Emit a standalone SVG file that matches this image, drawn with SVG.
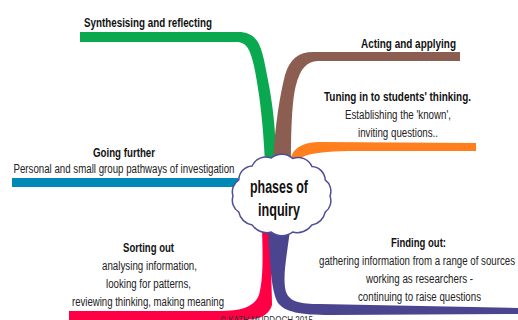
<svg xmlns="http://www.w3.org/2000/svg" width="518" height="320" viewBox="0 0 518 320">
<style>
text{font-family:"Liberation Sans",Arial,sans-serif;fill:#111;text-anchor:middle}
.h{font-weight:bold;font-size:12.5px}
.n{font-size:12.5px;fill:#222}
.c{font-weight:bold;font-size:19px}
.cp{font-size:10px;fill:#333}
</style>
<rect width="518" height="320" fill="#fff"/>
<g id="connectors">
<path d="M290,162 C292,149 300,142 322,142 L476,143 V151 L400,151 C360,151 330,150 312,154 C302,156 297,160 295,164 Z" fill="#ff7f1f"/>
<path d="M80,32 H238 C255,32 260,42 264,60 C269,85 276,115 276,162 H265 C263,120 259,90 254,66 C250,48 246,42 236,42 H80 Z" fill="#0aa84f"/>
<path d="M460,52 H316 C300,51 290,58 285,75 C280,95 275,125 273,162 H291 C291,130 292,100 296,85 C300,70 306,61 318,61 H460 Z" fill="#8c5e52"/>
<rect x="12" y="178" width="226" height="9" fill="#0088b6"/>
<path d="M262,230 H272 C270,260 272,290 272,305 C268,318 255,320 240,320 H69 V311 H220 C245,311 255,305 259,295 C263,280 263,260 262,230 Z" fill="#ff0044"/>
<path d="M268,230 H290 C287,255 282,278 286,292 C290,302 300,304 320,304 L518,308 V314 L330,315 C300,315 285,312 278,303 C272,293 270,270 268,230 Z" fill="#4b458f"/>
</g>
<g id="center">
<path d="M330,196 A14,14 0 0 1 325.2,212.1 A16,16 0 0 1 311.9,224.9 A18,18 0 0 1 292.7,232.1 A18,18 0 0 1 271.3,232.1 A18,18 0 0 1 252.1,224.9 A16,16 0 0 1 238.8,212.1 A14,14 0 0 1 233,196 A14,14 0 0 1 238.8,179.9 A14,14 0 0 1 252.1,166 A15,15 0 0 1 271.3,158 A16,16 0 0 1 292.7,158.5 A15,15 0 0 1 311.9,166.5 A14,14 0 0 1 325.2,179.9 A14,14 0 0 1 330,196 Z" fill="#fff" stroke="#4d4d9c" stroke-width="1.5"/>
<text class="c" x="279" y="193" textLength="58" lengthAdjust="spacingAndGlyphs">phases of</text>
<text class="c" x="279" y="216" textLength="42" lengthAdjust="spacingAndGlyphs">inquiry</text>
</g>
<g id="synthesising">
<text class="h" x="148" y="27" textLength="128" lengthAdjust="spacingAndGlyphs">Synthesising and reflecting</text>
</g>
<g id="acting">
<text class="h" x="408.5" y="48" textLength="95" lengthAdjust="spacingAndGlyphs">Acting and applying</text>
</g>
<g id="tuning">
<text class="h" x="397.5" y="101" textLength="147" lengthAdjust="spacingAndGlyphs">Tuning in to students' thinking.</text>
<text class="n" x="398" y="119" textLength="106" lengthAdjust="spacingAndGlyphs">Establishing the 'known',</text>
<text class="n" x="398" y="137" textLength="80" lengthAdjust="spacingAndGlyphs">inviting questions..</text>
</g>
<g id="going">
<text class="h" x="124" y="157" textLength="62" lengthAdjust="spacingAndGlyphs">Going further</text>
<text class="n" x="124" y="173" textLength="221" lengthAdjust="spacingAndGlyphs">Personal and small group pathways of investigation</text>
</g>
<g id="sorting">
<text class="h" x="148.5" y="252" textLength="51" lengthAdjust="spacingAndGlyphs">Sorting out</text>
<text class="n" x="149.5" y="270" textLength="95" lengthAdjust="spacingAndGlyphs">analysing information,</text>
<text class="n" x="148.5" y="288" textLength="85" lengthAdjust="spacingAndGlyphs">looking for patterns,</text>
<text class="n" x="148" y="306" textLength="152" lengthAdjust="spacingAndGlyphs">reviewing thinking, making meaning</text>
</g>
<g id="finding">
<text class="h" x="418.5" y="247" textLength="55" lengthAdjust="spacingAndGlyphs">Finding out:</text>
<text class="n" x="417" y="265" textLength="196" lengthAdjust="spacingAndGlyphs">gathering information from a range of sources</text>
<text class="n" x="419.5" y="283" textLength="107" lengthAdjust="spacingAndGlyphs">working as researchers -</text>
<text class="n" x="419.5" y="301" textLength="123" lengthAdjust="spacingAndGlyphs">continuing to raise questions</text>
</g>
<g id="copyright">
<text class="cp" x="266.5" y="324" textLength="93" lengthAdjust="spacingAndGlyphs">© KATH MURDOCH 2015</text>
</g>
</svg>
